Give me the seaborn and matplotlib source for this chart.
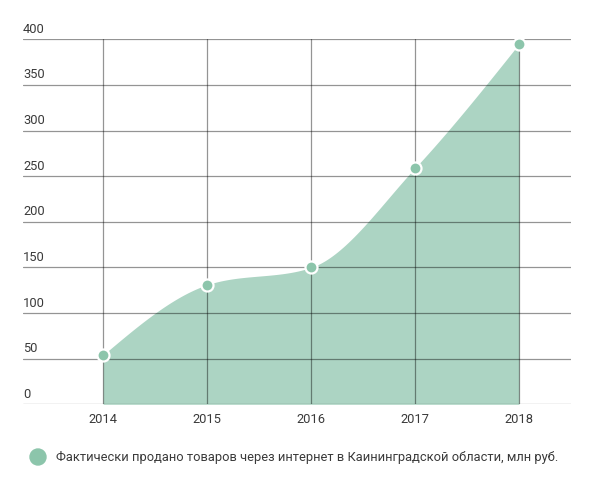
import numpy as np
import matplotlib
matplotlib.use('Agg')
import matplotlib.pyplot as plt
import seaborn as sns

years = [2014, 2015, 2016, 2017, 2018]
values = [54, 131, 150, 259, 395]
yticks = [0, 50, 100, 150, 200, 250, 300, 350, 400]
legend_label = 'Фактически продано товаров через интернет в Каининградской области, млн руб.'

fill_color = '#acd4c3'
point_color = '#8cc5ab'
text_color = '#3a3a3a'


def monotone_curve(x, y, steps=40):
    # d3 curveMonotoneX style hermite spline
    x = np.asarray(x, float)
    y = np.asarray(y, float)
    h = np.diff(x)
    s = np.diff(y) / h
    m = np.zeros(len(x))
    for i in range(1, len(x) - 1):
        p = (s[i - 1] * h[i] + s[i] * h[i - 1]) / (h[i - 1] + h[i])
        m[i] = (np.sign(s[i - 1]) + np.sign(s[i])) * min(abs(s[i - 1]), abs(s[i]), 0.5 * abs(p))
    m[0] = (3 * s[0] - m[1]) / 2
    m[-1] = (3 * s[-1] - m[-2]) / 2
    xs, ys = [], []
    for i in range(len(x) - 1):
        t = np.linspace(0, 1, steps)
        h00 = 2 * t**3 - 3 * t**2 + 1
        h10 = t**3 - 2 * t**2 + t
        h01 = -2 * t**3 + 3 * t**2
        h11 = t**3 - t**2
        xs.append(x[i] + t * h[i])
        ys.append(h00 * y[i] + h10 * h[i] * m[i] + h01 * y[i + 1] + h11 * h[i] * m[i + 1])
    return np.concatenate(xs), np.concatenate(ys)


sns.set_style('white')
plt.rcParams['font.family'] = ['Roboto', 'DejaVu Sans']

fig = plt.figure(figsize=(6.15, 4.82), dpi=100)
ax = fig.add_axes([23 / 615, (482 - 404.3) / 482, (571 - 23) / 615, (404.3 - 39.3) / 482])

cx, cy = monotone_curve(years, values)
ax.fill_between(cx, 0, cy, color=fill_color, linewidth=0, zorder=1)

# grid lines over the fill
for yv in yticks:
    ax.axhline(yv, color='#000000', alpha=0.42, linewidth=0.9, zorder=2)
for xv in years:
    ax.plot([xv, xv], [0, 400], color='#000000', alpha=0.42, linewidth=0.9, zorder=2)

sns.scatterplot(x=years, y=values, ax=ax, s=75, color=point_color,
                edgecolor='white', linewidth=1.6, zorder=4, clip_on=False)

ax.set_xlim(2013.23, 2018.5)
ax.set_ylim(0, 400)
for sp in ax.spines.values():
    sp.set_visible(False)
ax.set_yticks([])
ax.set_xticks(years)
ax.set_xticklabels([str(y) for y in years], fontsize=9.3, color=text_color)
ax.tick_params(axis='x', length=0, pad=6)

for yv in yticks:
    ax.annotate(str(yv), xy=(0, yv), xycoords=('axes fraction', 'data'),
                xytext=(0, 2.5), textcoords='offset points',
                ha='left', va='bottom', fontsize=9.3, color=text_color)

fig.text(56 / 615, 1 - 457 / 482, legend_label, ha='left', va='center',
         fontsize=9.3, color=text_color)
fig.patches.append(matplotlib.patches.Ellipse((38 / 615, 1 - 457 / 482), 16 / 615, 16 / 482,
                                              transform=fig.transFigure, color=point_color))

fig.savefig('out.png', dpi=100)
